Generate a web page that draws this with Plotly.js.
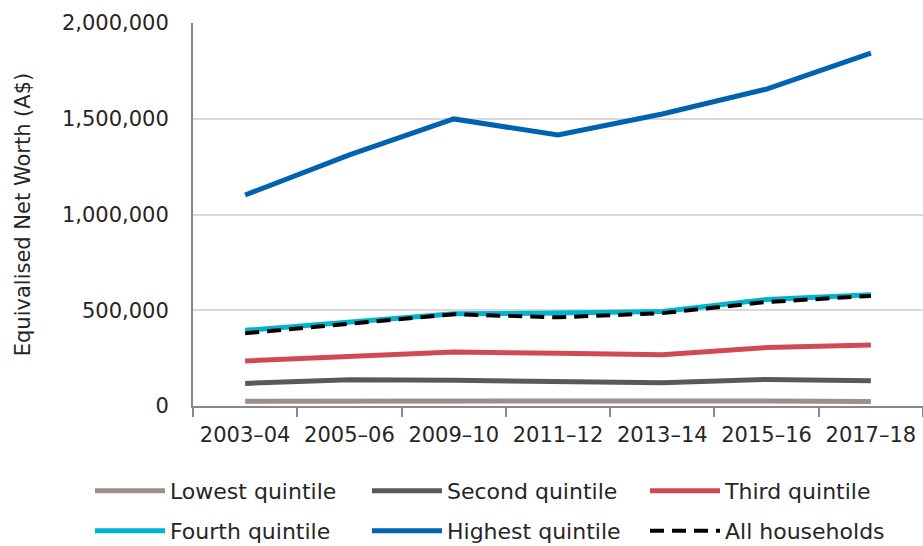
<!DOCTYPE html>
<html>
<head>
<meta charset="utf-8">
<script src="https://cdn.plot.ly/plotly-3.0.1.min.js"></script>
<style>html,body{margin:0;padding:0;background:#fff}#chart{width:923px;height:546px}</style>
</head>
<body>
<div id="chart"></div>
<script>
const years = ["2003–04", "2005–06", "2009–10", "2011–12", "2013–14", "2015–16", "2017–18"];
const lowest = [25000, 26000, 24000, 24000, 25000, 26000, 23000];
const second = [118000, 137000, 134000, 129000, 122000, 139000, 132000];
const third = [235000, 261000, 282000, 275000, 268000, 305000, 319000];
const fourth = [395000, 438000, 482000, 485000, 494000, 556000, 581000];
const highest = [1102000, 1311000, 1499000, 1415000, 1525000, 1655000, 1843000];
const allHouseholds = [380000, 430000, 479000, 463000, 485000, 543000, 575000];

const FONT = "DejaVu Sans, sans-serif";
const TXT = "#262626";
const mk = (name, y, color, legend, dash, width) => ({
  type: "scatter", mode: "lines", name: name, x: years, y: y,
  line: {color: color, width: width || 5, dash: dash || "solid"},
  legend: legend
});

const data = [
  mk("Lowest quintile", lowest, "#9A8F8A", "legend"),
  mk("Second quintile", second, "#58595B", "legend2"),
  mk("Third quintile", third, "#D04A56", "legend3"),
  mk("Fourth quintile", fourth, "#00B4CE", "legend4"),
  mk("Highest quintile", highest, "#0063AF", "legend5"),
  mk("All households", allHouseholds, "#000000", "legend6", "14px,8px", 4)
];

const colX = [90, 367, 645];
const rowY = [491, 531];
function leg(col, row) {
  return {
    orientation: "h", xref: "container", yref: "container",
    x: colX[col] / 923, xanchor: "left", y: 1 - rowY[row] / 546, yanchor: "middle",
    itemwidth: 70,
    font: {family: FONT, size: 22, color: TXT},
    bgcolor: "rgba(0,0,0,0)", borderwidth: 0
  };
}

const layout = {
  width: 923, height: 546,
  margin: {l: 193, r: 0, t: 23, b: 140, autoexpand: false},
  paper_bgcolor: "#fff", plot_bgcolor: "#fff",
  font: {family: FONT, size: 21, color: TXT},
  showlegend: true,
  legend: leg(0, 0), legend2: leg(1, 0), legend3: leg(2, 0),
  legend4: leg(0, 1), legend5: leg(1, 1), legend6: leg(2, 1),
  xaxis: {
    type: "category", range: [-0.5, 6.5], tickson: "boundaries", ticks: "outside", ticklen: 9,
    tickcolor: "#898989", tickwidth: 2, ticklabelstandoff: 9,
    showline: true, linecolor: "#898989", linewidth: 2,
    showgrid: false, zeroline: false, automargin: false,
    tickfont: {family: FONT, size: 21, color: TXT}
  },
  yaxis: {
    range: [0, 2000000], dtick: 500000, tickformat: ",d",
    showline: true, linecolor: "#898989", linewidth: 2,
    showgrid: true, gridcolor: "#D9D9D9", gridwidth: 2,
    zeroline: false, ticks: "", ticklabelstandoff: 18, automargin: false,
    tickfont: {family: FONT, size: 21, color: TXT},
    title: {text: "Equivalised Net Worth (A$)", font: {family: FONT, size: 21, color: TXT}, standoff: 26}
  }
};

Plotly.newPlot("chart", data, layout, {displayModeBar: false, staticPlot: true});
</script>
</body>
</html>
